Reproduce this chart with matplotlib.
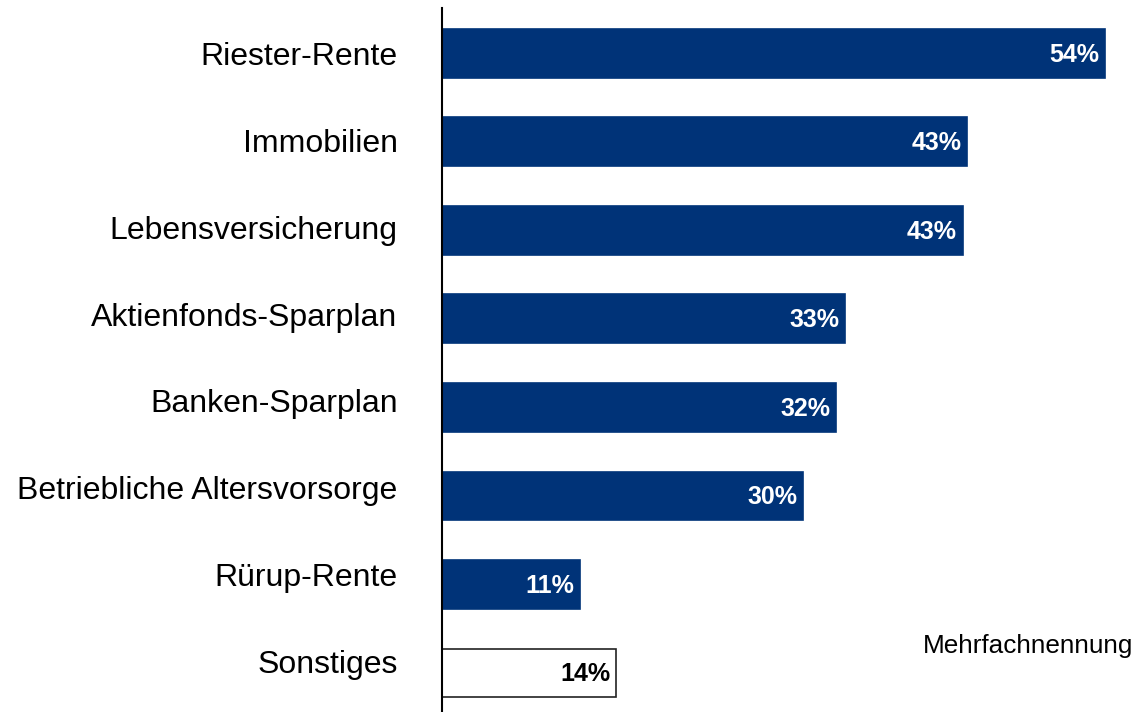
import numpy as np
import matplotlib.pyplot as plt
import matplotlib.transforms as mtrans

plt.rcParams['font.family'] = ['Liberation Sans', 'DejaVu Sans']

categories = ['Riester-Rente', 'Immobilien', 'Lebensversicherung', 'Aktienfonds-Sparplan',
              'Banken-Sparplan', 'Betriebliche Altersvorsorge', 'Rürup-Rente', 'Sonstiges']
values = [54.0, 42.8, 42.4, 32.8, 32.1, 29.4, 11.2, 14.2]
labels = ['54%', '43%', '43%', '33%', '32%', '30%', '11%', '14%']

navy = '#003378'

fig = plt.figure(figsize=(11.39, 7.12), dpi=100)
ax = fig.add_axes([442/1139, 0.0, 1 - 442/1139, 1 - 8/712])

y = np.arange(len(categories))
fills = [navy]*(len(categories)-1) + ['white']
edges = [navy]*(len(categories)-1) + ['#222222']
ax.barh(y, values, height=0.55, color=fills, edgecolor=edges, linewidth=1.2)

for yi, v, lab, fc in zip(y, values, labels, fills):
    tc = 'white' if fc != 'white' else 'black'
    ax.annotate(lab, (v, yi), xytext=(-4, -1), textcoords='offset points',
                ha='right', va='center', fontsize=18, fontweight='bold', color=tc)

ax.set_yticks(y)
ax.set_yticklabels(categories, fontsize=23)
ax.tick_params(axis='y', length=0, pad=32)
# category labels creep upwards slightly relative to the bars in the original
for i, t in enumerate(ax.get_yticklabels()):
    t.set_transform(t.get_transform() + mtrans.ScaledTranslation(0, i*1.6/100, fig.dpi_scale_trans))
ax.set_ylim(7.44, -0.51)
ax.set_xlim(0, (1139-443)/12.26)
ax.set_xticks([])
for s in ['top', 'right', 'bottom']:
    ax.spines[s].set_visible(False)
ax.spines['left'].set_linewidth(1.5)

fig.text(1133/1139, 1 - 646/712, 'Mehrfachnennung', ha='right', va='center', fontsize=18.8)

fig.savefig('out.png', dpi=100)
